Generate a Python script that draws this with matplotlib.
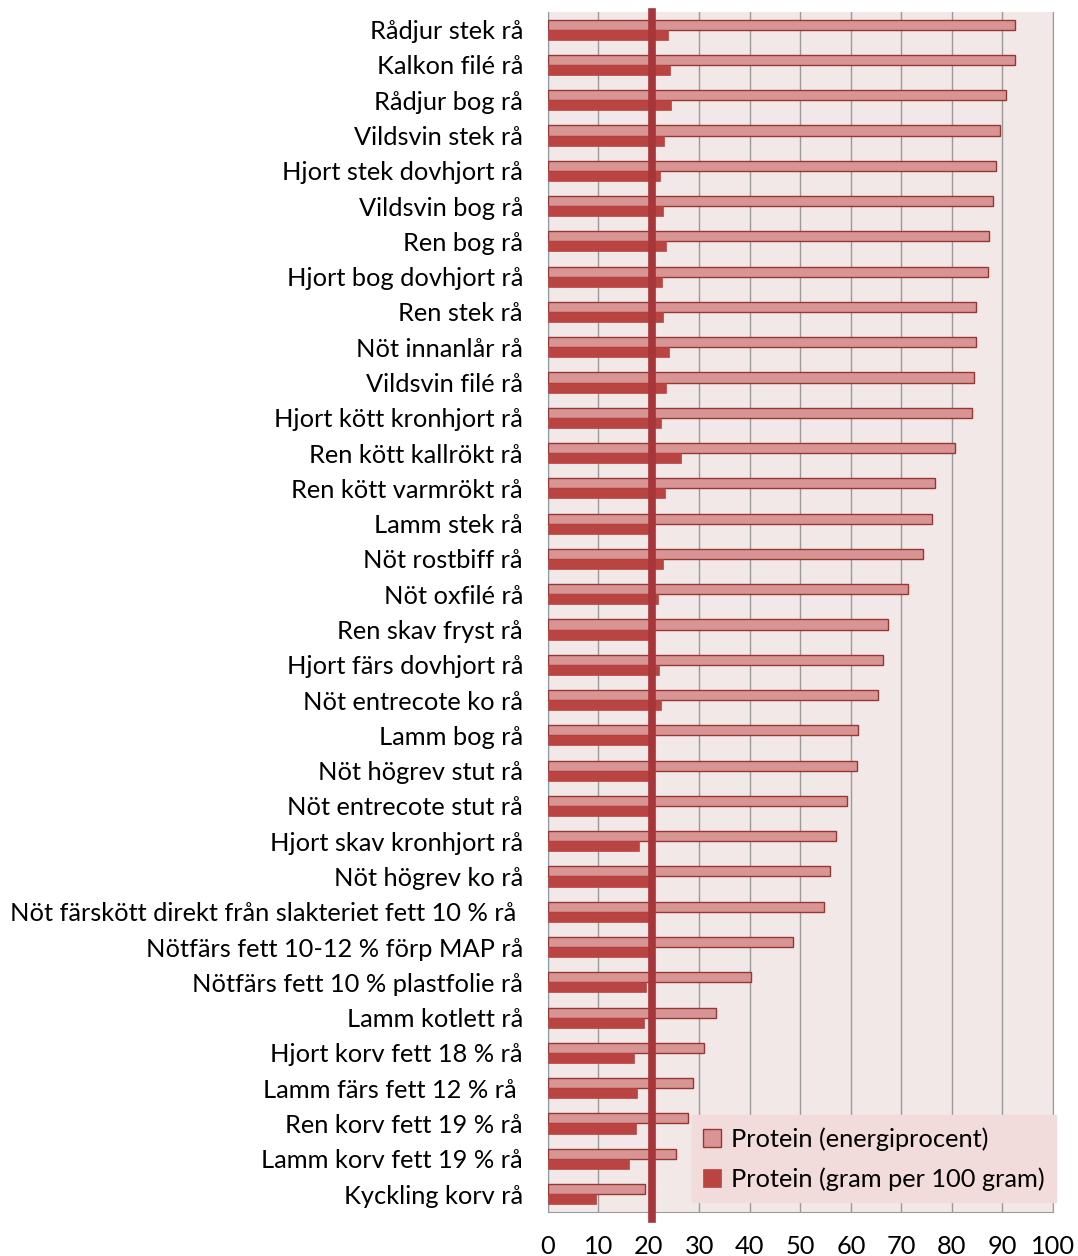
import matplotlib
matplotlib.use("Agg")
import matplotlib.pyplot as plt
import numpy as np

categories = [
    "Rådjur stek rå", "Kalkon filé rå", "Rådjur bog rå", "Vildsvin stek rå",
    "Hjort stek dovhjort rå", "Vildsvin bog rå", "Ren bog rå", "Hjort bog dovhjort rå",
    "Ren stek rå", "Nöt innanlår rå", "Vildsvin filé rå", "Hjort kött kronhjort rå",
    "Ren kött kallrökt rå", "Ren kött varmrökt rå", "Lamm stek rå", "Nöt rostbiff rå",
    "Nöt oxfilé rå", "Ren skav fryst rå", "Hjort färs dovhjort rå", "Nöt entrecote ko rå",
    "Lamm bog rå", "Nöt högrev stut rå", "Nöt entrecote stut rå", "Hjort skav kronhjort rå",
    "Nöt högrev ko rå", "Nöt färskött direkt från slakteriet fett 10 % rå ",
    "Nötfärs fett 10-12 % förp MAP rå", "Nötfärs fett 10 % plastfolie rå",
    "Lamm kotlett rå", "Hjort korv fett 18 % rå", "Lamm färs fett 12 % rå ",
    "Ren korv fett 19 % rå", "Lamm korv fett 19 % rå", "Kyckling korv rå",
]

protein_energy_pct = [
    92.5, 92.5, 90.6, 89.5, 88.8, 88.1, 87.3, 87.1, 84.8, 84.8, 84.4, 84.0,
    80.5, 76.6, 76.1, 74.2, 71.3, 67.4, 66.3, 65.4, 61.3, 61.1, 59.3, 57.0,
    55.8, 54.7, 48.6, 40.3, 33.3, 30.9, 28.7, 27.8, 25.4, 19.3,
]

protein_g_per_100g = [
    23.7, 24.2, 24.4, 23.0, 22.1, 22.8, 23.4, 22.6, 22.8, 23.9, 23.4, 22.4,
    26.3, 23.2, 20.4, 22.8, 21.7, 20.5, 21.9, 22.4, 20.3, 20.5, 20.4, 18.0,
    20.5, 20.6, 20.5, 19.5, 19.1, 17.1, 17.6, 17.4, 16.0, 9.5,
]

reference_level = 20.7
x_ticks = [0, 10, 20, 30, 40, 50, 60, 70, 80, 90, 100]
legend_labels = ["Protein (energiprocent)", "Protein (gram per 100 gram)"]

plt.rcParams["font.family"] = ["Lato", "DejaVu Sans"]
fs = 18.3

fig = plt.figure(figsize=(10.78, 12.56), dpi=100)
ax = fig.add_axes([0.5083, 0.0353, 0.4685, 0.9551])
ax.set_facecolor("#F2E8E8")

y = np.arange(len(categories))
h = 0.285
light = ax.barh(y - h / 2, protein_energy_pct, height=h, color="#D99594",
                edgecolor="#953735", linewidth=1.0, zorder=3, label=legend_labels[0])
dark = ax.barh(y + h / 2, protein_g_per_100g, height=h, color="#B94442",
               edgecolor="#B94442", linewidth=0.5, zorder=3, label=legend_labels[1])

ax.axvline(reference_level, ymin=-0.0065, ymax=1.0, color="#A7363A", linewidth=5.5,
           zorder=5, clip_on=False)

ax.set_xlim(0, 100)
ax.set_ylim(len(categories) - 0.5, -0.5)
ax.set_xticks(x_ticks)
ax.set_xticklabels([str(t) for t in x_ticks], fontsize=fs)
ax.set_yticks(y)
ax.set_yticklabels(categories, fontsize=fs)
ax.tick_params(axis="both", length=0)
ax.tick_params(axis="x", pad=17)
ax.tick_params(axis="y", pad=18)

ax.grid(axis="x", color="#9A9A9A", linewidth=1.0, zorder=1)
ax.set_axisbelow(True)
ax.spines["top"].set_visible(False)
ax.spines["right"].set_color("#9A9A9A")
ax.spines["bottom"].set_color("#9A9A9A")
ax.spines["left"].set_color("#8C9AA8")

leg = ax.legend(handles=[light, dark], loc="lower right",
                bbox_to_anchor=(1.006, 0.008), fontsize=fs, frameon=True,
                fancybox=False, handlelength=0.7, handleheight=0.7,
                handletextpad=0.4, labelspacing=0.65, borderpad=0.45,
                borderaxespad=0.0)
leg.get_frame().set_facecolor("#F2DCDB")
leg.get_frame().set_edgecolor("#F2DCDB")
leg.get_frame().set_alpha(1.0)
leg.set_zorder(6)

fig.savefig("out.png", dpi=100, facecolor="white")
